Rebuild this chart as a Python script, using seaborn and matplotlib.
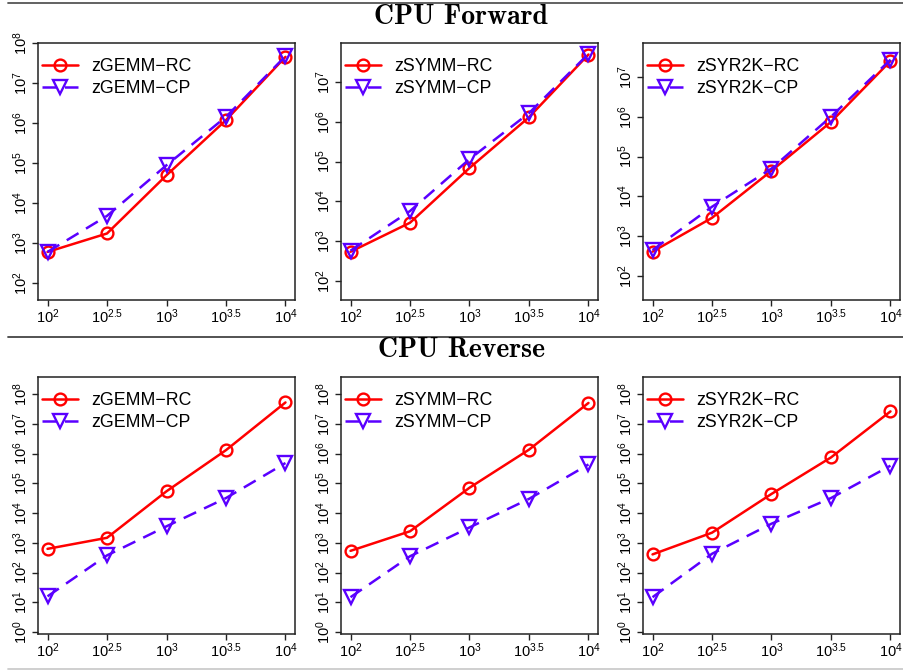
import numpy as np
import pandas as pd
import matplotlib
matplotlib.use("Agg")
import matplotlib.pyplot as plt
from matplotlib.lines import Line2D
import seaborn as sns

# problem sizes (x axis) and tick labels
sizes = [1e2, 10**2.5, 1e3, 10**3.5, 1e4]
size_labels = [r"$10^{2}$", r"$10^{2.5}$", r"$10^{3}$", r"$10^{3.5}$", r"$10^{4}$"]

routines = ["zGEMM", "zSYMM", "zSYR2K"]

# CPU forward timings
fwd_rc = {
    "zGEMM": [600, 1740, 50000, 1.2e6, 4.6e7],
    "zSYMM": [540, 2900, 69000, 1.3e6, 4.9e7],
    "zSYR2K": [410, 2900, 44000, 7.4e5, 2.5e7],
}
fwd_cp = {
    "zGEMM": [600, 4800, 89000, 1.45e6, 4.8e7],
    "zSYMM": [575, 5700, 115000, 1.65e6, 5.1e7],
    "zSYR2K": [450, 5500, 50000, 1.0e6, 2.7e7],
}
# CPU reverse timings
rev_rc = {
    "zGEMM": [630, 1480, 54000, 1.3e6, 5.2e7],
    "zSYMM": [540, 2450, 71000, 1.35e6, 5.0e7],
    "zSYR2K": [410, 2200, 44000, 7.4e5, 2.6e7],
}
rev_cp = {
    "zGEMM": [16, 380, 3600, 32000, 4.8e5],
    "zSYMM": [15, 355, 3300, 30000, 4.3e5],
    "zSYR2K": [15, 430, 4400, 32000, 3.9e5],
}

# log10 y limits of each panel
fwd_ylim = {"zGEMM": (1.575, 8.01), "zSYMM": (1.52, 7.98), "zSYR2K": (1.4, 7.85)}
rev_ylim = (-0.06, 8.57)

RED = "#FF0000"
BLUE = "#5A00FF"

sns.set_theme(style="ticks")
plt.rcParams["font.family"] = ["Liberation Sans", "DejaVu Sans"]
plt.rcParams["mathtext.fontset"] = "custom"
plt.rcParams["mathtext.rm"] = "Liberation Sans"
plt.rcParams["mathtext.it"] = "Liberation Sans:italic"
plt.rcParams["mathtext.bf"] = "Liberation Sans:bold"
plt.rcParams["text.color"] = "black"
plt.rcParams["xtick.labelcolor"] = "black"
plt.rcParams["ytick.labelcolor"] = "black"

W, H = 904, 671
fig = plt.figure(figsize=(W / 100, H / 100), dpi=100)

lefts = [38, 341, 643]
width = 257
rows = [(43, 300), (377, 634)]


def panel(x0, y0, y1, name, rc, cp, ylim):
    ax = fig.add_axes([x0 / W, 1 - y1 / H, width / W, (y1 - y0) / H])
    ax.set_xscale("log")
    ax.set_yscale("log")
    df = pd.DataFrame({"n": sizes, "rc": rc, "cp": cp})
    sns.lineplot(data=df, x="n", y="rc", ax=ax, color=RED, lw=1.8,
                 marker="o", markersize=8.5, markerfacecolor="none",
                 markeredgecolor=RED, markeredgewidth=1.7,
                 label=name + "\u2212RC")
    sns.lineplot(data=df, x="n", y="cp", ax=ax, color=BLUE, lw=1.8,
                 linestyle=(0, (5.5, 3.5)),
                 marker="v", markersize=10, markerfacecolor="none",
                 markeredgecolor=BLUE, markeredgewidth=1.7,
                 label=name + "\u2212CP")
    ax.set_xlim(10**1.92, 10**4.08)
    ax.set_ylim(10**ylim[0], 10**ylim[1])
    ax.set_xticks(sizes)
    ax.set_xticklabels(size_labels)
    yt = [10.0**k for k in range(0, 9) if ylim[0] <= k <= ylim[1]]
    ax.set_yticks(yt)
    ax.set_yticklabels([r"$10^{%d}$" % int(round(np.log10(v))) for v in yt],
                       rotation=90, va="center")
    ax.minorticks_off()
    ax.tick_params(axis="both", length=4, width=1, pad=1.5,
                   labelsize=10.5, color="#222222")
    ax.set_xlabel("")
    ax.set_ylabel("")
    for s in ax.spines.values():
        s.set_linewidth(1.1)
        s.set_color("#222222")
        s.set_visible(True)
    ax.legend(loc="upper left", bbox_to_anchor=(0.016, 0.94),
              frameon=False, fontsize=12.8,
              handlelength=2.0, handletextpad=0.75, labelspacing=0.25,
              borderaxespad=0, borderpad=0)
    return ax


for i, name in enumerate(routines):
    panel(lefts[i], rows[0][0], rows[0][1], name,
          fwd_rc[name], fwd_cp[name], fwd_ylim[name])
    panel(lefts[i], rows[1][0], rows[1][1], name,
          rev_rc[name], rev_cp[name], rev_ylim)

# section titles and separator rules
fig.text(461 / W, 1 - 17 / H, "CPU Forward", ha="center", va="center",
         fontsize=20, family=["cmb10", "DejaVu Serif"])
fig.text(461 / W, 1 - 350 / H, "CPU Reverse", ha="center", va="center",
         fontsize=20, family=["cmb10", "DejaVu Serif"])
for y, c in [(3, "#555555"), (337, "#444444"), (669, "#cccccc")]:
    fig.add_artist(Line2D([8 / W, 1], [1 - y / H, 1 - y / H],
                          color=c, lw=1.3, transform=fig.transFigure))

fig.savefig("out.png", dpi=100)
